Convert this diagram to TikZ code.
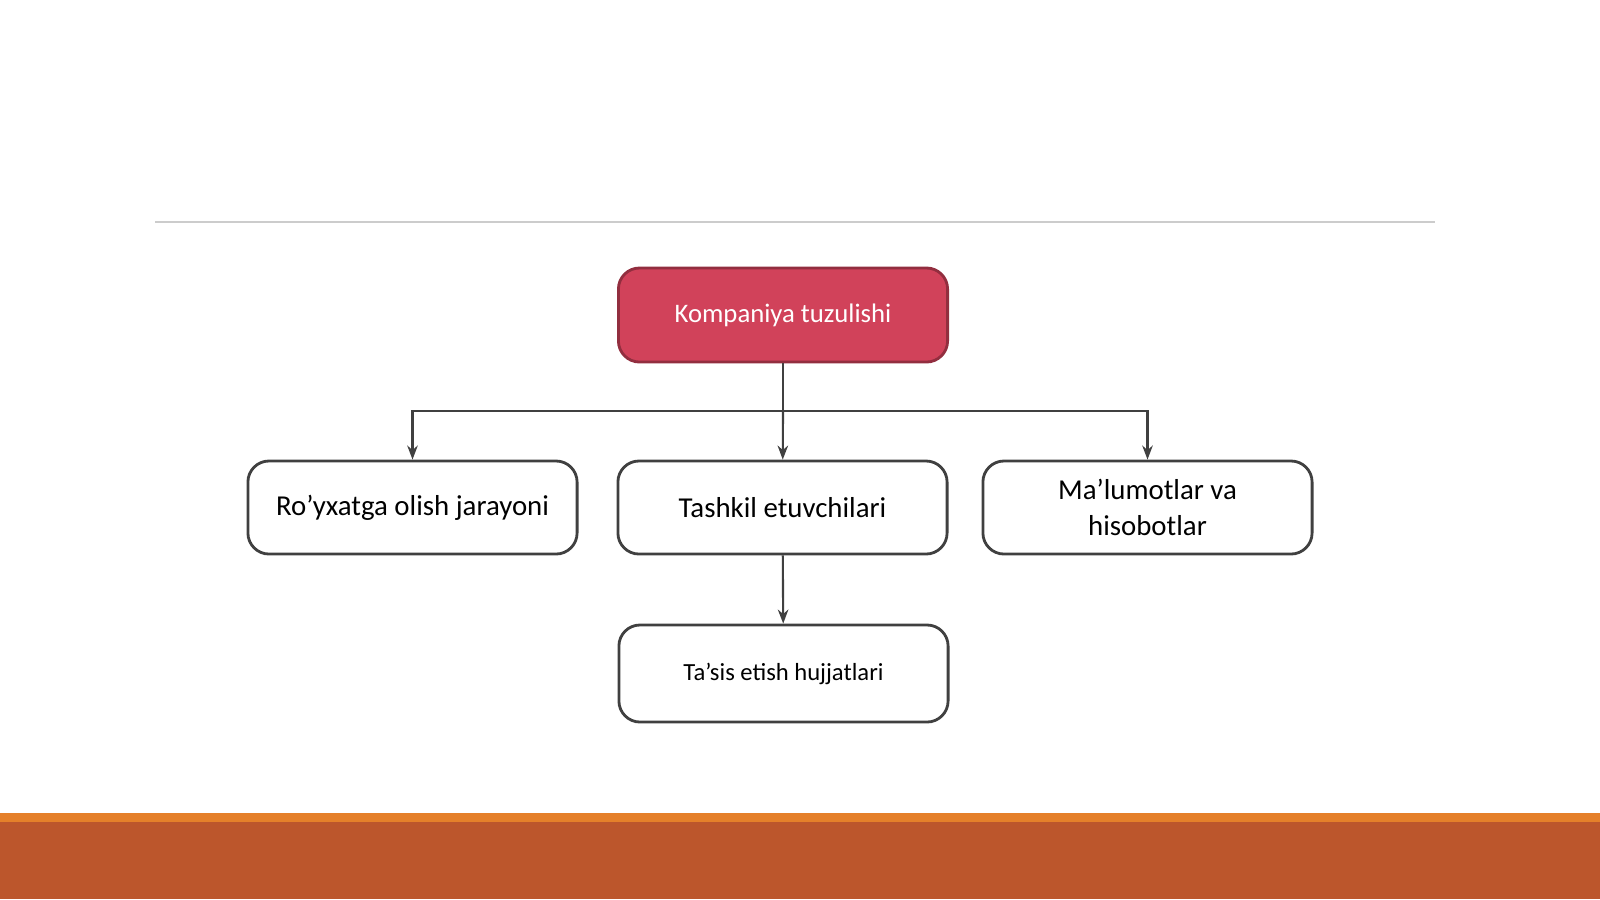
\documentclass[tikz,border=0pt]{standalone}
\usepackage{fontspec}
\setmainfont{Carlito}
\usetikzlibrary{arrows.meta,positioning}
\definecolor{headred}{HTML}{D1425A}
\definecolor{barorange}{HTML}{E5802A}
\definecolor{barbrown}{HTML}{BC562C}
\begin{document}
\begin{tikzpicture}[x=0.01cm,y=-0.01cm]
\useasboundingbox (0,0) rectangle (1600,899);
\fill[barbrown] (0,822) rectangle (1600,899);
\fill[barorange] (0,813) rectangle (1600,822);
\draw[black!20,thick] (155,222) -- (1435,222);
\begin{scope}[every node/.style={rectangle,rounded corners=6pt,thick,draw=black!75,
              minimum width=3.29cm,minimum height=0.93cm,align=center,font=\fontsize{8.2}{10}\selectfont}]
    \node (H) at (783,315) [fill=headred,draw=headred!70!black,text=white,minimum height=0.94cm,
        font=\fontsize{7.6}{9}\selectfont] {Kompaniya tuzulishi};
    \node (L) at (412.5,507.5) {Ro’yxatga olish jarayoni};
    \node (M) at (782.5,507.5) {Tashkil etuvchilari};
    \node (R) at (1147.5,507.5) {Ma’lumotlar va\\hisobotlar};
    \node (B) at (783.5,673.5) [minimum height=0.97cm,font=\fontsize{7}{9}\selectfont] {Ta’sis etish hujjatlari};
\end{scope}
\coordinate (J) at (783,411);
\begin{scope}[>={Stealth[black!75,length=4pt,width=3pt]},
              every edge/.style={draw=black!75,semithick}]
    \path (H) edge (J);
    \path [->] (J) edge (M);
    \path [->] (J) edge[to path={-| (\tikztotarget)}] (L);
    \path [->] (J) edge[to path={-| (\tikztotarget)}] (R);
    \path [->] (M) edge (B);
\end{scope}
\end{tikzpicture}
\end{document}
